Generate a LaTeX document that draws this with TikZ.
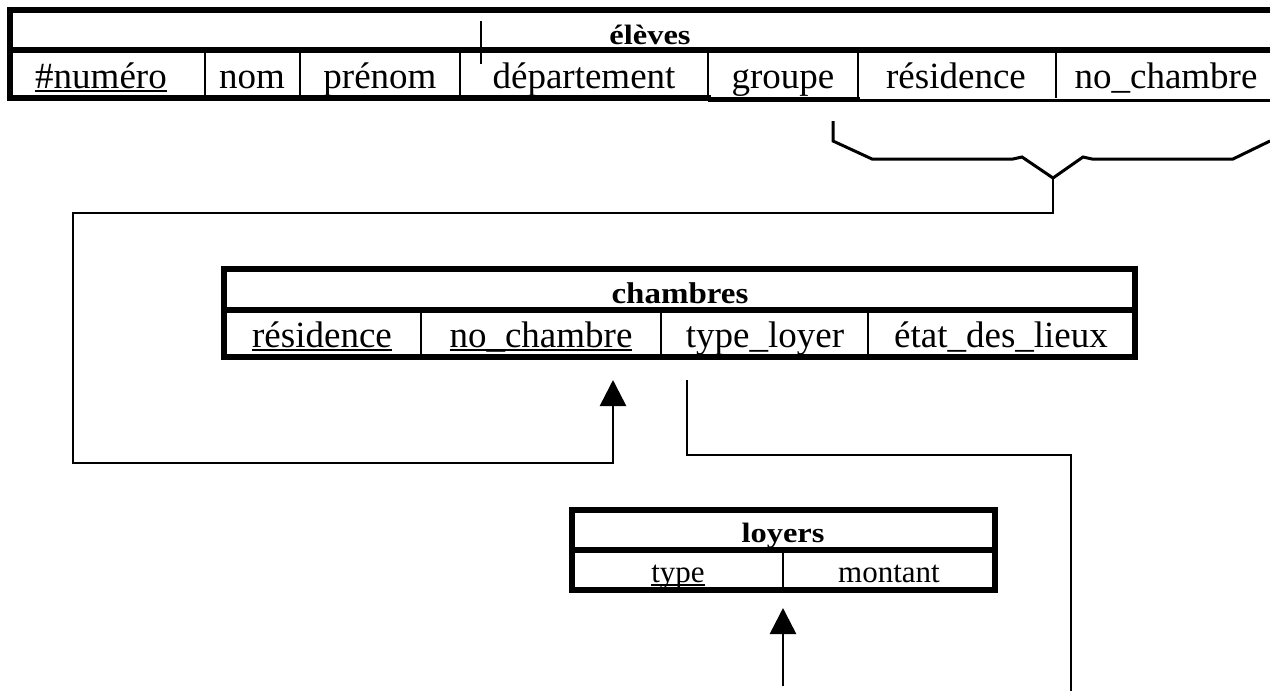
\documentclass[tikz,border=0pt]{standalone}
\usepackage{fontspec}
\setmainfont{Liberation Serif}
\newfontfamily\fHead[FakeStretch=1.16]{Liberation Serif}
\newfontfamily\fHeadB[FakeStretch=1.10]{Liberation Serif}
\usetikzlibrary{arrows.meta}
% underline drawn at a fixed depth below the baseline
\newcommand\ulword[1]{\setbox0\hbox{#1}\rlap{\rule[-3.6pt]{\wd0}{1.6pt}}\box0}
\begin{document}
\begin{tikzpicture}[x=1pt,y=-1pt,
  frame/.style={line width=5.5pt,line cap=rect},
  sep/.style={line width=2.2pt},
  link/.style={line width=2.6pt,line join=miter},
  brace/.style={line width=3pt,line join=miter},
  tip/.style={-{Triangle[length=26pt,width=26pt]}},
  cell/.style={anchor=base,inner sep=0pt},
  eleverow/.style={cell,font=\fontsize{37}{40}\selectfont},
  elevehead/.style={cell,font=\fHead\bfseries\fontsize{28}{30}\selectfont},
  chamrow/.style={cell,font=\fontsize{37}{40}\selectfont},
  chamhead/.style={cell,font=\fHeadB\bfseries\fontsize{30}{32}\selectfont},
  loyhead/.style={cell,font=\fHead\bfseries\fontsize{28}{30}\selectfont},
  loyrow/.style={cell,font=\fontsize{31}{34}\selectfont}]
\useasboundingbox (0,0) rectangle (1270,691);

% ---- table: eleves ----
\draw[frame] (10,10) -- (1280,10);
\draw[frame] (10,50) -- (1280,50);
\draw[frame] (10,10) -- (10,98);
\draw[frame] (10,98) -- (708,98);
\draw[line width=5pt] (708,99) -- (860,99);
\draw[sep] (860,100.5) -- (1280,100.5);
\foreach \x in {205,300,460,708,858,1056} \draw[sep] (\x,50) -- (\x,98);
\draw[sep] (481,21) -- (481,64);
\node[elevehead] (eleves) at (650,44) {élèves};
\node[eleverow] (e1) at (101,88) {\ulword{\#numéro}};
\node[eleverow] (e2) at (252,88) {nom};
\node[eleverow] (e3) at (380,88) {prénom};
\node[eleverow] (e4) at (584,88) {département};
\node[eleverow] (e5) at (783,88) {groupe};
\node[eleverow] (e6) at (956,88) {résidence};
\node[eleverow] (e7) at (1166,88) {no\_chambre};

% ---- table: chambres ----
\draw[frame] (224,269) rectangle (1135,357);
\draw[frame] (224,310) -- (1135,310);
\foreach \x in {421,661,868} \draw[sep] (\x,310) -- (\x,357);
\node[chamhead] (chambres) at (680,303) {chambres};
\node[chamrow] (c1) at (322,347) {\ulword{résidence}};
\node[chamrow] (c2) at (541,347) {\ulword{no\_chambre}};
\node[chamrow] (c3) at (765,347) {type\_loyer};
\node[chamrow] (c4) at (1001,347) {état\_des\_lieux};

% ---- table: loyers ----
\draw[frame] (572,510) rectangle (995,590);
\draw[frame] (572,550) -- (995,550);
\draw[sep] (783,550) -- (783,590);
\node[loyhead] (loyers) at (783,542) {loyers};
\node[loyrow] (l1) at (678,582) {\ulword{type}};
\node[loyrow] (l2) at (889,582) {montant};

% ---- connector anchors ----
\coordinate (bL) at (833,121);
\coordinate (bR) at (1270,141);
\coordinate (bTip) at (1053,178);
\coordinate (cKey) at (613,380);
\coordinate (cFk) at (687,380);
\coordinate (lKey) at (783,608);
\coordinate (lFoot) at (783,686);
\coordinate (cFoot) at (1071,700);

% brace grouping residence + no_chambre of eleves
\draw[brace] (bL) -- (833,141) -- (872,159) -- (1013,159) -- (1022,157)
  -- (bTip) -- (1083,157) -- (1092,159) -- (1233,159) -- (bR);
% eleves(residence,no_chambre) -> chambres key
\draw[link,tip] (bTip) -- (1053,213) -- (73,213) -- (73,463) -- (613,463) -- (cKey);
% chambres.type_loyer -> loyers key
\draw[link] (cFk) -- (687,455) -- (1071,455) -- (cFoot);
\draw[link,tip] (lFoot) -- (lKey);
\end{tikzpicture}
\end{document}
